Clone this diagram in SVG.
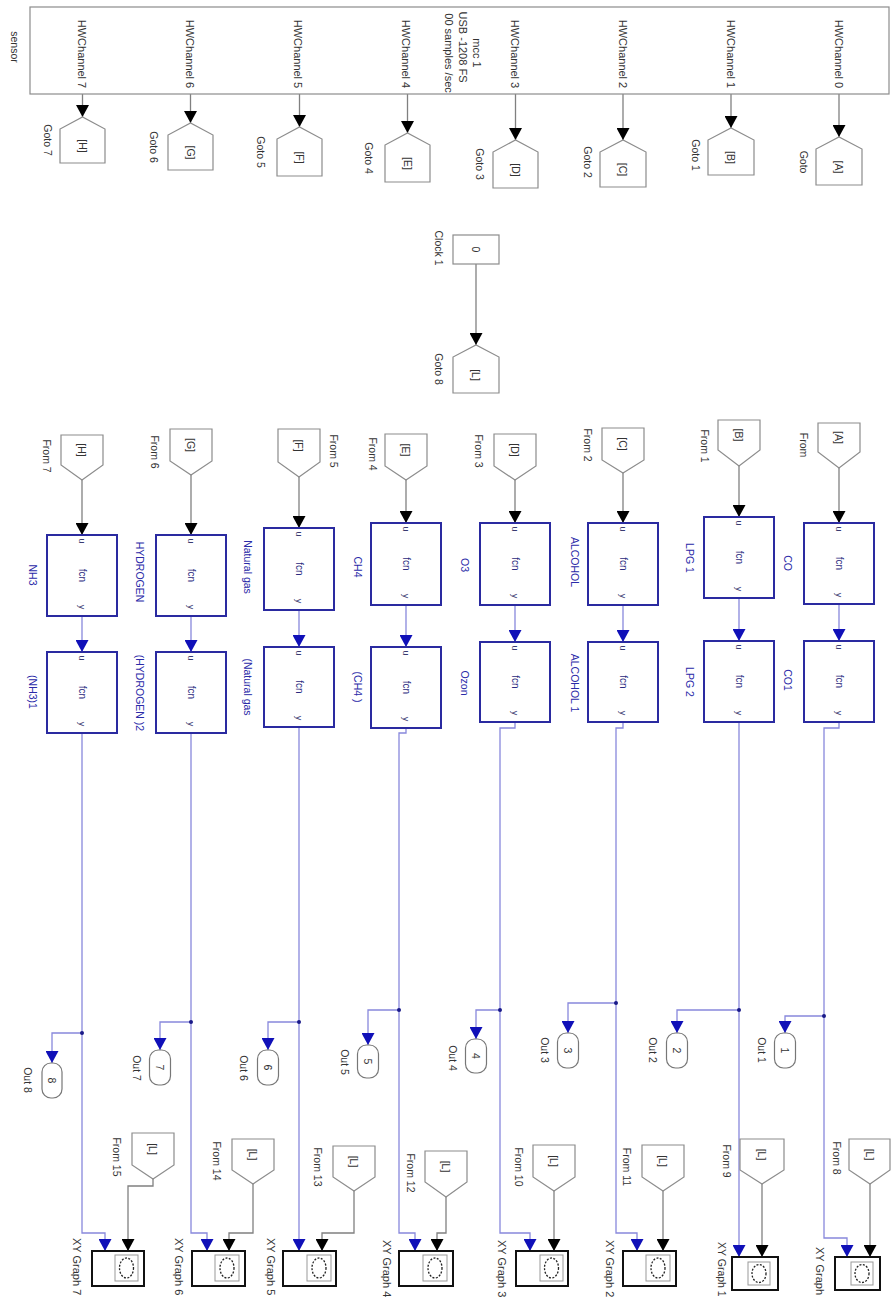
<svg xmlns="http://www.w3.org/2000/svg" width="891" height="1299" viewBox="0 0 891 1299">
<defs>
<style>
text{font-family:"Liberation Sans",Arial,sans-serif;font-size:10.5px;fill:#333;text-anchor:middle;dominant-baseline:central}
.hw{font-size:11px}
.bl{fill:#2a2aa8}
.in{font-size:9px;fill:#3a3a70}
.fn{font-size:10px;fill:#2a2a80}
.st{text-anchor:start;font-size:11px}
.g{fill:#fff;stroke:#8c8c8c;stroke-width:1.2}
.f{fill:#fff;stroke:#2a2aa0;stroke-width:2}
.o{fill:#fff;stroke:#777;stroke-width:1.2}
.xy{fill:#fff;stroke:#111;stroke-width:2}
.xi{fill:#fff;stroke:#999;stroke-width:1}
.el{fill:none;stroke:#222;stroke-width:1.3;stroke-dasharray:2 1.5}
.wg{fill:none;stroke:#808080;stroke-width:1.3}
.wb{fill:none;stroke:#8888dc;stroke-width:1.3}
.ak{marker-end:url(#mk)}
.ab{marker-end:url(#mb)}
.dot{fill:#1a1a88}
</style>
<marker id="mk" viewBox="0 0 12 13" refX="12" refY="6.5" markerWidth="12" markerHeight="13" markerUnits="userSpaceOnUse" orient="auto"><path d="M0,0 L12,6.5 L0,13 z" fill="#000"/></marker>
<marker id="mb" viewBox="0 0 12 13" refX="12" refY="6.5" markerWidth="12" markerHeight="13" markerUnits="userSpaceOnUse" orient="auto"><path d="M0,0 L12,6.5 L0,13 z" fill="#1010b8"/></marker>
</defs>
<rect width="891" height="1299" fill="#fff"/>

<g id="connectors">
<path class="wg ak" d="M82.5,94 V117"/>
<path class="wg ak" d="M190.5,94 V123"/>
<path class="wg ak" d="M299.5,94 V127"/>
<path class="wg ak" d="M407.5,94 V133"/>
<path class="wg ak" d="M515.5,94 V140"/>
<path class="wg ak" d="M623,94 V140"/>
<path class="wg ak" d="M731,94 V128"/>
<path class="wg ak" d="M839,94 V137"/>
<path class="wg ak" d="M476,264 V345"/>
<path class="wg ak" d="M82,480 V535"/>
<path class="wg ak" d="M191,475 V535"/>
<path class="wg ak" d="M299,477 V528"/>
<path class="wg ak" d="M406,480 V523"/>
<path class="wg ak" d="M515,480 V523"/>
<path class="wg ak" d="M623,473 V523"/>
<path class="wg ak" d="M739,466 V517"/>
<path class="wg ak" d="M839,468 V523"/>
<path class="wb ab" d="M82,616 V652"/>
<path class="wb ab" d="M191,616 V652"/>
<path class="wb ab" d="M299,610 V647"/>
<path class="wb ab" d="M406,605 V647"/>
<path class="wb ab" d="M515,605 V642"/>
<path class="wb ab" d="M623,605 V642"/>
<path class="wb ab" d="M739,598 V641"/>
<path class="wb ab" d="M839,604 V641"/>
<path class="wb ab" d="M82,733 V1233 H105 V1251"/>
<path class="wb ab" d="M191,733 V1233 H207 V1251"/>
<path class="wb ab" d="M299,727 V1251"/>
<path class="wb ab" d="M406,728 V733 H399 V1233 H415 V1251"/>
<path class="wb ab" d="M515,722 V728 H500 V1233 H530 V1251"/>
<path class="wb ab" d="M623,722 V728 H616 V1233 H637 V1251"/>
<path class="wb ab" d="M739,722 V1257"/>
<path class="wb ab" d="M839,722 V728 H824 V1238 H847 V1257"/>
<path class="wb ab" d="M82,1033 H52 V1063"/>
<path class="wb ab" d="M191,1022 H160 V1050"/>
<path class="wb ab" d="M299,1022 H268 V1050"/>
<path class="wb ab" d="M399,1010 H368 V1045"/>
<path class="wb ab" d="M500,1010 H476 V1039"/>
<path class="wb ab" d="M616,1003 H568 V1033"/>
<path class="wb ab" d="M739,1010 H677 V1033"/>
<path class="wb ab" d="M824,1016 H785 V1033"/>
<circle class="dot" cx="82" cy="1033" r="2"/>
<circle class="dot" cx="191" cy="1022" r="2"/>
<circle class="dot" cx="299" cy="1022" r="2"/>
<circle class="dot" cx="399" cy="1010" r="2"/>
<circle class="dot" cx="500" cy="1010" r="2"/>
<circle class="dot" cx="616" cy="1003" r="2"/>
<circle class="dot" cx="739" cy="1010" r="2"/>
<circle class="dot" cx="824" cy="1016" r="2"/>
<path class="wg ak" d="M153,1179 V1186 H128 V1251"/>
<path class="wg ak" d="M253,1184 V1233 H229 V1251"/>
<path class="wg ak" d="M354,1191 V1233 H322 V1251"/>
<path class="wg ak" d="M446,1197 V1233 H437 V1251"/>
<path class="wg ak" d="M554,1191 V1251"/>
<path class="wg ak" d="M663,1191 V1251"/>
<path class="wg ak" d="M762,1184 V1257"/>
<path class="wg ak" d="M870,1184 V1257"/>
</g>

<g id="sensor">
<rect class="g" x="30" y="7" width="859" height="87"/>
<text transform="translate(15,47) rotate(90)">sensor</text>
<text class="hw" transform="translate(82,54) rotate(90)">HWChannel 7</text>
<text class="hw" transform="translate(190,54) rotate(90)">HWChannel 6</text>
<text class="hw" transform="translate(298,54) rotate(90)">HWChannel 5</text>
<text class="hw" transform="translate(406,54) rotate(90)">HWChannel 4</text>
<text class="hw" transform="translate(477,53) rotate(90)">mcc 1</text>
<text class="hw" transform="translate(463,47) rotate(90)">USB -1208 FS</text>
<text class="hw" transform="translate(449,53) rotate(90)">00 samples /sec</text>
<text class="hw" transform="translate(515,54) rotate(90)">HWChannel 3</text>
<text class="hw" transform="translate(623,54) rotate(90)">HWChannel 2</text>
<text class="hw" transform="translate(731,54) rotate(90)">HWChannel 1</text>
<text class="hw" transform="translate(839,54) rotate(90)">HWChannel 0</text>
</g>

<g id="goto7"><polygon class="g" points="60,163 60,129 82.5,117 105,129 105,163"/><text transform="translate(82.5,146) rotate(90)">[H]</text><text transform="translate(48,140) rotate(90)">Goto 7</text></g>
<g id="goto6"><polygon class="g" points="168,170 168,135 190.5,123 213,135 213,170"/><text transform="translate(190.5,152.5) rotate(90)">[G]</text><text transform="translate(154,147) rotate(90)">Goto 6</text></g>
<g id="goto5"><polygon class="g" points="277,176 277,139 299.5,127 322,139 322,176"/><text transform="translate(299.5,157.5) rotate(90)">[F]</text><text transform="translate(261,152) rotate(90)">Goto 5</text></g>
<g id="goto4"><polygon class="g" points="385,182 385,145 407.5,133 430,145 430,182"/><text transform="translate(407.5,163.5) rotate(90)">[E]</text><text transform="translate(369,158) rotate(90)">Goto 4</text></g>
<g id="goto3"><polygon class="g" points="493,188 493,152 515.5,140 538,152 538,188"/><text transform="translate(515.5,170) rotate(90)">[D]</text><text transform="translate(480,164) rotate(90)">Goto 3</text></g>
<g id="goto2"><polygon class="g" points="600,187 600,152 623,140 646,152 646,187"/><text transform="translate(623,169.5) rotate(90)">[C]</text><text transform="translate(588,162) rotate(90)">Goto 2</text></g>
<g id="goto1"><polygon class="g" points="708,175 708,140 731,128 754,140 754,175"/><text transform="translate(731,157.5) rotate(90)">[B]</text><text transform="translate(696,155) rotate(90)">Goto 1</text></g>
<g id="goto0"><polygon class="g" points="816,185 816,149 839,137 862,149 862,185"/><text transform="translate(839,167) rotate(90)">[A]</text><text transform="translate(804,162) rotate(90)">Goto</text></g>

<g id="clock1"><rect class="g" x="453" y="235" width="46" height="29"/><text transform="translate(476,249.5) rotate(90)">0</text><text transform="translate(439,248) rotate(90)">Clock 1</text></g>
<g id="goto8"><polygon class="g" points="453,393 453,357 476,345 499,357 499,393"/><text transform="translate(476,375) rotate(90)">[L]</text><text transform="translate(439,369) rotate(90)">Goto 8</text></g>

<g id="from7"><polygon class="g" points="61,435 103,435 103,465 82,480 61,465"/><text transform="translate(82,450) rotate(90)">[H]</text><text transform="translate(47,456) rotate(90)">From 7</text></g>
<g id="from6"><polygon class="g" points="170,429 212,429 212,461 191,475 170,461"/><text transform="translate(191,445) rotate(90)">[G]</text><text transform="translate(155,452) rotate(90)">From 6</text></g>
<g id="from5"><polygon class="g" points="278,429 320,429 320,462 299,477 278,462"/><text transform="translate(299,445.5) rotate(90)">[F]</text><text transform="translate(334,451) rotate(90)">From 5</text></g>
<g id="from4"><polygon class="g" points="385,434 427,434 427,466 406,480 385,466"/><text transform="translate(406,450) rotate(90)">[E]</text><text transform="translate(373,454) rotate(90)">From 4</text></g>
<g id="from3"><polygon class="g" points="494,434 536,434 536,466 515,480 494,466"/><text transform="translate(515,450) rotate(90)">[D]</text><text transform="translate(479,451) rotate(90)">From 3</text></g>
<g id="from2"><polygon class="g" points="602,428 644,428 644,460 623,473 602,460"/><text transform="translate(623,444) rotate(90)">[C]</text><text transform="translate(588,445) rotate(90)">From 2</text></g>
<g id="from1"><polygon class="g" points="718,420 760,420 760,450 739,466 718,450"/><text transform="translate(739,435) rotate(90)">[B]</text><text transform="translate(705,446) rotate(90)">From 1</text></g>
<g id="from0"><polygon class="g" points="818,423 860,423 860,452 839,468 818,452"/><text transform="translate(839,437.5) rotate(90)">[A]</text><text transform="translate(804,445) rotate(90)">From</text></g>

<g id="fcnNH3"><rect class="f" x="47" y="535" width="70" height="81"/><text class="in" transform="translate(82,541) rotate(90)">u</text><text class="fn" transform="translate(82,575.5) rotate(90)">fcn</text><text class="in" transform="translate(82,607) rotate(90)">y</text><text class="bl" transform="translate(33,575) rotate(90)">NH3</text></g>
<g id="fcnNH3b"><rect class="f" x="47" y="652" width="70" height="81"/><text class="in" transform="translate(82,658) rotate(90)">u</text><text class="fn" transform="translate(82,692.5) rotate(90)">fcn</text><text class="in" transform="translate(82,724) rotate(90)">y</text><text class="bl" transform="translate(33,692) rotate(90)">(NH3)1</text></g>
<g id="fcnH2"><rect class="f" x="156" y="535" width="70" height="81"/><text class="in" transform="translate(191,541) rotate(90)">u</text><text class="fn" transform="translate(191,575.5) rotate(90)">fcn</text><text class="in" transform="translate(191,607) rotate(90)">y</text><text class="bl" transform="translate(140,572) rotate(90)">HYDROGEN</text></g>
<g id="fcnH2b"><rect class="f" x="156" y="652" width="70" height="81"/><text class="in" transform="translate(191,658) rotate(90)">u</text><text class="fn" transform="translate(191,692.5) rotate(90)">fcn</text><text class="in" transform="translate(191,724) rotate(90)">y</text><text class="bl" transform="translate(140,693) rotate(90)">(HYDROGEN )2</text></g>
<g id="fcnNG"><rect class="f" x="264" y="528" width="70" height="82"/><text class="in" transform="translate(299,534) rotate(90)">u</text><text class="fn" transform="translate(299,569) rotate(90)">fcn</text><text class="in" transform="translate(299,601) rotate(90)">y</text><text class="bl" transform="translate(248,567) rotate(90)">Natural gas</text></g>
<g id="fcnNGb"><rect class="f" x="264" y="647" width="70" height="80"/><text class="in" transform="translate(299,653) rotate(90)">u</text><text class="fn" transform="translate(299,687) rotate(90)">fcn</text><text class="in" transform="translate(299,718) rotate(90)">y</text><text class="bl" transform="translate(248,687) rotate(90)">(Natural gas</text></g>
<g id="fcnCH4"><rect class="f" x="371" y="523" width="70" height="82"/><text class="in" transform="translate(406,529) rotate(90)">u</text><text class="fn" transform="translate(406,564) rotate(90)">fcn</text><text class="in" transform="translate(406,596) rotate(90)">y</text><text class="bl" transform="translate(358,567) rotate(90)">CH4</text></g>
<g id="fcnCH4b"><rect class="f" x="371" y="647" width="70" height="81"/><text class="in" transform="translate(406,653) rotate(90)">u</text><text class="fn" transform="translate(406,687.5) rotate(90)">fcn</text><text class="in" transform="translate(406,719) rotate(90)">y</text><text class="bl" transform="translate(358,687) rotate(90)">(CH4 )</text></g>
<g id="fcnO3"><rect class="f" x="480" y="523" width="70" height="82"/><text class="in" transform="translate(515,529) rotate(90)">u</text><text class="fn" transform="translate(515,564) rotate(90)">fcn</text><text class="in" transform="translate(515,596) rotate(90)">y</text><text class="bl" transform="translate(465,565) rotate(90)">O3</text></g>
<g id="fcnO3b"><rect class="f" x="480" y="642" width="70" height="80"/><text class="in" transform="translate(515,648) rotate(90)">u</text><text class="fn" transform="translate(515,682) rotate(90)">fcn</text><text class="in" transform="translate(515,713) rotate(90)">y</text><text class="bl" transform="translate(465,683) rotate(90)">Ozon</text></g>
<g id="fcnALC"><rect class="f" x="588" y="523" width="70" height="82"/><text class="in" transform="translate(623,529) rotate(90)">u</text><text class="fn" transform="translate(623,564) rotate(90)">fcn</text><text class="in" transform="translate(623,596) rotate(90)">y</text><text class="bl" transform="translate(575,562) rotate(90)">ALCOHOL</text></g>
<g id="fcnALCb"><rect class="f" x="588" y="642" width="70" height="80"/><text class="in" transform="translate(623,648) rotate(90)">u</text><text class="fn" transform="translate(623,682) rotate(90)">fcn</text><text class="in" transform="translate(623,713) rotate(90)">y</text><text class="bl" transform="translate(575,683) rotate(90)">ALCOHOL 1</text></g>
<g id="fcnLPG"><rect class="f" x="704" y="517" width="70" height="81"/><text class="in" transform="translate(739,523) rotate(90)">u</text><text class="fn" transform="translate(739,557.5) rotate(90)">fcn</text><text class="in" transform="translate(739,589) rotate(90)">y</text><text class="bl" transform="translate(690,558) rotate(90)">LPG 1</text></g>
<g id="fcnLPGb"><rect class="f" x="704" y="641" width="70" height="81"/><text class="in" transform="translate(739,647) rotate(90)">u</text><text class="fn" transform="translate(739,681.5) rotate(90)">fcn</text><text class="in" transform="translate(739,713) rotate(90)">y</text><text class="bl" transform="translate(690,682) rotate(90)">LPG 2</text></g>
<g id="fcnCO"><rect class="f" x="804" y="523" width="70" height="81"/><text class="in" transform="translate(839,529) rotate(90)">u</text><text class="fn" transform="translate(839,563.5) rotate(90)">fcn</text><text class="in" transform="translate(839,595) rotate(90)">y</text><text class="bl" transform="translate(788,563) rotate(90)">CO</text></g>
<g id="fcnCOb"><rect class="f" x="804" y="641" width="70" height="81"/><text class="in" transform="translate(839,647) rotate(90)">u</text><text class="fn" transform="translate(839,681.5) rotate(90)">fcn</text><text class="in" transform="translate(839,713) rotate(90)">y</text><text class="bl" transform="translate(788,680) rotate(90)">CO1</text></g>

<g id="out8"><rect class="o" x="42" y="1063" width="20" height="35" rx="9"/><text transform="translate(52,1080.5) rotate(90)">8</text><text transform="translate(28,1080) rotate(90)">Out 8</text></g>
<g id="out7"><rect class="o" x="149.5" y="1050" width="21" height="35" rx="9"/><text transform="translate(160,1067.5) rotate(90)">7</text><text transform="translate(137,1068) rotate(90)">Out 7</text></g>
<g id="out6"><rect class="o" x="257.5" y="1050" width="21" height="35" rx="9"/><text transform="translate(268,1067.5) rotate(90)">6</text><text transform="translate(244,1068) rotate(90)">Out 6</text></g>
<g id="out5"><rect class="o" x="357.5" y="1045" width="21" height="33" rx="9"/><text transform="translate(368,1061.5) rotate(90)">5</text><text transform="translate(345,1062) rotate(90)">Out 5</text></g>
<g id="out4"><rect class="o" x="465.5" y="1039" width="21" height="34" rx="9"/><text transform="translate(476,1056) rotate(90)">4</text><text transform="translate(453,1058) rotate(90)">Out 4</text></g>
<g id="out3"><rect class="o" x="557.5" y="1033" width="21" height="35" rx="9"/><text transform="translate(568,1050.5) rotate(90)">3</text><text transform="translate(545,1050) rotate(90)">Out 3</text></g>
<g id="out2"><rect class="o" x="666.5" y="1033" width="21" height="35" rx="9"/><text transform="translate(677,1050.5) rotate(90)">2</text><text transform="translate(653,1050) rotate(90)">Out 2</text></g>
<g id="out1"><rect class="o" x="774.5" y="1033" width="21" height="35" rx="9"/><text transform="translate(785,1050.5) rotate(90)">1</text><text transform="translate(762,1050) rotate(90)">Out 1</text></g>

<g id="from15"><polygon class="g" points="132,1133 174,1133 174,1165 153,1179 132,1165"/><text transform="translate(153,1149) rotate(90)">[L]</text><text transform="translate(117,1157) rotate(90)">From 15</text></g>
<g id="from14"><polygon class="g" points="232,1139 274,1139 274,1170 253,1184 232,1170"/><text transform="translate(253,1154.5) rotate(90)">[L]</text><text transform="translate(217,1161) rotate(90)">From 14</text></g>
<g id="from13"><polygon class="g" points="333,1146 375,1146 375,1177 354,1191 333,1177"/><text transform="translate(354,1161.5) rotate(90)">[L]</text><text transform="translate(318,1167) rotate(90)">From 13</text></g>
<g id="from12"><polygon class="g" points="425,1151 467,1151 467,1182 446,1197 425,1182"/><text transform="translate(446,1166.5) rotate(90)">[L]</text><text transform="translate(411,1173) rotate(90)">From 12</text></g>
<g id="from10"><polygon class="g" points="533,1145 575,1145 575,1177 554,1191 533,1177"/><text transform="translate(554,1161) rotate(90)">[L]</text><text transform="translate(519,1167) rotate(90)">From 10</text></g>
<g id="from11"><polygon class="g" points="642,1145 684,1145 684,1177 663,1191 642,1177"/><text transform="translate(663,1161) rotate(90)">[L]</text><text transform="translate(627,1167) rotate(90)">From 11</text></g>
<g id="from9"><polygon class="g" points="740,1139 784,1139 784,1170 762,1184 740,1170"/><text transform="translate(762,1154.5) rotate(90)">[L]</text><text transform="translate(727,1161) rotate(90)">From 9</text></g>
<g id="from8"><polygon class="g" points="849,1139 890,1139 890,1170 870,1184 849,1170"/><text transform="translate(869.5,1154.5) rotate(90)">[L]</text><text transform="translate(837,1158) rotate(90)">From 8</text></g>

<g id="xy7"><rect class="xy" x="92" y="1251" width="52" height="35"/><rect class="xi" x="115" y="1255" width="23" height="26"/><ellipse class="el" cx="126.5" cy="1268" rx="7" ry="10"/><text class="st" transform="translate(77,1238) rotate(90)">XY Graph 7</text></g>
<g id="xy6"><rect class="xy" x="192" y="1251" width="53" height="35"/><rect class="xi" x="215" y="1255" width="24" height="26"/><ellipse class="el" cx="227" cy="1268" rx="7" ry="10"/><text class="st" transform="translate(179,1238) rotate(90)">XY Graph 6</text></g>
<g id="xy5"><rect class="xy" x="283" y="1251" width="53" height="35"/><rect class="xi" x="307" y="1255" width="24" height="26"/><ellipse class="el" cx="319" cy="1268" rx="7" ry="10"/><text class="st" transform="translate(271,1238) rotate(90)">XY Graph 5</text></g>
<g id="xy4"><rect class="xy" x="399" y="1251" width="54" height="35"/><rect class="xi" x="423" y="1255" width="24" height="26"/><ellipse class="el" cx="435" cy="1268" rx="7" ry="10"/><text class="st" transform="translate(387,1240) rotate(90)">XY Graph 4</text></g>
<g id="xy3"><rect class="xy" x="516" y="1251" width="52" height="35"/><rect class="xi" x="540" y="1255" width="23" height="26"/><ellipse class="el" cx="551.5" cy="1268" rx="7" ry="10"/><text class="st" transform="translate(502,1240) rotate(90)">XY Graph 3</text></g>
<g id="xy2"><rect class="xy" x="623" y="1251" width="53" height="35"/><rect class="xi" x="646" y="1255" width="24" height="26"/><ellipse class="el" cx="658" cy="1268" rx="7" ry="10"/><text class="st" transform="translate(610,1240) rotate(90)">XY Graph 2</text></g>
<g id="xy1"><rect class="xy" x="732" y="1257" width="46" height="33"/><rect class="xi" x="748" y="1262" width="22" height="23"/><ellipse class="el" cx="759" cy="1273.5" rx="7" ry="9"/><text class="st" style="font-size:10.5px" transform="translate(722,1242) rotate(90)">XY Graph 1</text></g>
<g id="xy0"><rect class="xy" x="835" y="1257" width="45" height="33"/><rect class="xi" x="851" y="1262" width="22" height="23"/><ellipse class="el" cx="862" cy="1273.5" rx="7" ry="9"/><text class="st" transform="translate(820,1247) rotate(90)">XY Graph</text></g>
</svg>
